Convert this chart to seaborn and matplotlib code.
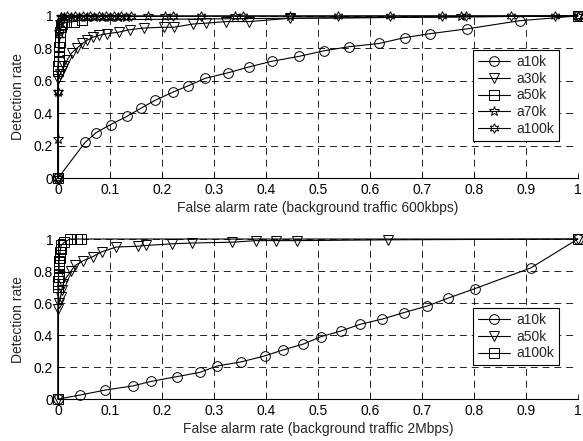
import numpy as np
import pandas as pd
import matplotlib
matplotlib.use('Agg')
import matplotlib.pyplot as plt
import seaborn as sns

# ---- top panel (background traffic 600kbps) ----
top_a10k_x = [0, 0.052, 0.073, 0.101, 0.132, 0.159, 0.187, 0.221, 0.251, 0.283, 0.328,
              0.367, 0.411, 0.463, 0.512, 0.56, 0.618, 0.667, 0.715, 0.787, 0.888, 1.0]
top_a10k_y = [0, 0.22, 0.28, 0.33, 0.38, 0.43, 0.48, 0.53, 0.57, 0.615, 0.65,
              0.685, 0.72, 0.75, 0.785, 0.81, 0.83, 0.866, 0.89, 0.92, 0.97, 1.0]

top_a30k_x = [0, 0, 0.004, 0.007, 0.012, 0.018, 0.026, 0.036, 0.047, 0.056, 0.068, 0.079,
              0.094, 0.117, 0.138, 0.165, 0.203, 0.223, 0.26, 0.285, 0.324, 0.368, 0.446, 1.0]
top_a30k_y = [0, 0.61, 0.64, 0.66, 0.69, 0.73, 0.77, 0.80, 0.83, 0.85, 0.87, 0.88,
              0.89, 0.90, 0.915, 0.925, 0.93, 0.93, 0.95, 0.955, 0.965, 0.965, 0.985, 1.0]

top_a50k_x = [0, 0, 0, 0.001, 0.001, 0.002, 0.002, 0.003, 0.003, 0.004, 0.005, 0.008,
              0.015, 0.03, 0.047, 1.0]
top_a50k_y = [0, 0.66, 0.69, 0.72, 0.75, 0.78, 0.81, 0.84, 0.87, 0.90, 0.93, 0.95,
              0.96, 0.964, 0.975, 1.0]

top_a70k_x = [0, 0, 0, 0.002, 0.004, 0.006, 0.012, 0.025, 0.04, 0.055, 0.07, 0.085,
              0.1, 0.115, 0.13, 0.174, 0.206, 0.34, 0.446, 0.776, 1.0]
top_a70k_y = [0, 0.24, 0.53, 0.90, 0.96, 0.99, 0.995, 0.995, 0.995, 0.995, 0.995, 0.995,
              0.995, 0.995, 0.995, 0.997, 0.997, 0.998, 0.998, 0.999, 1.0]

top_a100k_x = [0, 0, 0.001, 0.003, 0.005, 0.018, 0.032, 0.048, 0.062, 0.078, 0.092, 0.108,
               0.122, 0.14, 0.221, 0.276, 0.356, 0.539, 0.638, 0.739, 0.785, 0.872, 0.956, 1.0]
top_a100k_y = [0, 0.53, 0.88, 0.95, 0.99, 1.0, 1.0, 1.0, 1.0, 1.0, 1.0, 1.0,
               1.0, 1.0, 1.0, 1.0, 1.0, 1.0, 1.0, 1.0, 1.0, 1.0, 1.0, 1.0]

# ---- bottom panel (background traffic 2Mbps) ----
bot_a10k_x = [0, 0.042, 0.09, 0.145, 0.178, 0.228, 0.273, 0.305, 0.353, 0.398, 0.432,
              0.472, 0.506, 0.544, 0.581, 0.624, 0.665, 0.709, 0.75, 0.802, 0.91, 1.0]
bot_a10k_y = [0, 0.025, 0.056, 0.083, 0.11, 0.14, 0.167, 0.206, 0.233, 0.27, 0.306,
              0.344, 0.39, 0.425, 0.467, 0.5, 0.54, 0.58, 0.63, 0.69, 0.82, 1.0]

bot_a50k_x = [0, 0, 0.002, 0.005, 0.007, 0.01, 0.016, 0.025, 0.033, 0.049, 0.067, 0.084,
              0.112, 0.153, 0.17, 0.22, 0.257, 0.334, 0.381, 0.42, 0.459, 0.635, 1.0]
bot_a50k_y = [0, 0.56, 0.60, 0.64, 0.68, 0.72, 0.76, 0.80, 0.835, 0.865, 0.89, 0.92,
              0.95, 0.955, 0.96, 0.97, 0.975, 0.98, 0.99, 0.99, 0.99, 0.995, 1.0]

bot_a100k_x = [0, 0, 0, 0, 0.001, 0.001, 0.001, 0.002, 0.002, 0.002, 0.003, 0.003,
               0.004, 0.005, 0.006, 0.012, 0.023, 0.036, 0.045, 1.0]
bot_a100k_y = [0, 0.70, 0.72, 0.74, 0.76, 0.78, 0.80, 0.82, 0.84, 0.86, 0.88, 0.90,
               0.92, 0.94, 0.96, 0.98, 1.0, 1.0, 1.0, 1.0]

x_ticks = [0, 0.1, 0.2, 0.3, 0.4, 0.5, 0.6, 0.7, 0.8, 0.9, 1]
x_ticklabels = ['0', '0.1', '0.2', '0.3', '0.4', '0.5', '0.6', '0.7', '0.8', '0.9', '1']
y_ticks = [0, 0.2, 0.4, 0.6, 0.8, 1]
y_ticklabels = ['0', '0.2', '0.4', '0.6', '0.8', '1']

sns.set_style('white')
plt.rcParams['font.family'] = ['Liberation Sans', 'DejaVu Sans']
plt.rcParams['lines.scale_dashes'] = False

fig = plt.figure(figsize=(5.83, 4.41), dpi=100)
ax_top = fig.add_axes([0.0995, 0.596, 0.8915, 0.368])
ax_bot = fig.add_axes([0.0995, 0.095, 0.8915, 0.363])


def draw_series(ax, xs, ys, marker, label, ms=7):
    df = pd.DataFrame({'x': xs, 'y': ys})
    sns.lineplot(data=df, x='x', y='y', ax=ax, sort=False, estimator=None,
                 color='k', linewidth=0.8, marker=marker, markersize=ms,
                 markerfacecolor='none', markeredgecolor='k', markeredgewidth=0.7,
                 clip_on=False, label=label)


def style_axes(ax, xlabel):
    ax.set_xlim(0, 1)
    ax.set_ylim(0, 1)
    ax.set_xticks(x_ticks)
    ax.set_xticklabels(x_ticklabels)
    ax.set_yticks(y_ticks)
    ax.set_yticklabels(y_ticklabels)
    ax.grid(True, color='k', linestyle=(0, (5, 3.5)), linewidth=0.6)
    ax.set_axisbelow(True)
    for side in ['top', 'right']:
        ax.spines[side].set_visible(False)
    for side in ['left', 'bottom']:
        ax.spines[side].set_color('k')
        ax.spines[side].set_linewidth(0.8)
    ax.tick_params(direction='in', length=3.5, width=0.6, colors='k',
                   labelsize=10, bottom=True, left=True)
    ax.set_xlabel(xlabel, fontsize=10, labelpad=3)
    ax.set_ylabel('Detection rate', fontsize=10, labelpad=6)


draw_series(ax_top, top_a10k_x, top_a10k_y, 'o', 'a10k')
draw_series(ax_top, top_a30k_x, top_a30k_y, 'v', 'a30k')
draw_series(ax_top, top_a50k_x, top_a50k_y, 's', 'a50k', ms=6.5)
draw_series(ax_top, top_a70k_x, top_a70k_y, '*', 'a70k', ms=7.5)
draw_series(ax_top, top_a100k_x, top_a100k_y, (6, 1, 0), 'a100k', ms=7)
style_axes(ax_top, 'False alarm rate (background traffic 600kbps)')

draw_series(ax_bot, bot_a10k_x, bot_a10k_y, 'o', 'a10k')
draw_series(ax_bot, bot_a50k_x, bot_a50k_y, 'v', 'a50k')
draw_series(ax_bot, bot_a100k_x, bot_a100k_y, 's', 'a100k', ms=6.5)
style_axes(ax_bot, 'False alarm rate (background traffic 2Mbps)')

for ax, box in [(ax_top, (0.798, 0.204, 0.19, 0.586)), (ax_bot, (0.798, 0.194, 0.19, 0.375))]:
    leg = ax.legend(loc='upper left', bbox_to_anchor=(box[0], box[1] + box[3]),
                    fontsize=10, frameon=True, fancybox=False, framealpha=1,
                    edgecolor='k', borderpad=0.35, labelspacing=0.2,
                    handlelength=2.3, handletextpad=0.5, borderaxespad=0)
    leg.get_frame().set_linewidth(0.8)

fig.savefig('out.png', dpi=100)
